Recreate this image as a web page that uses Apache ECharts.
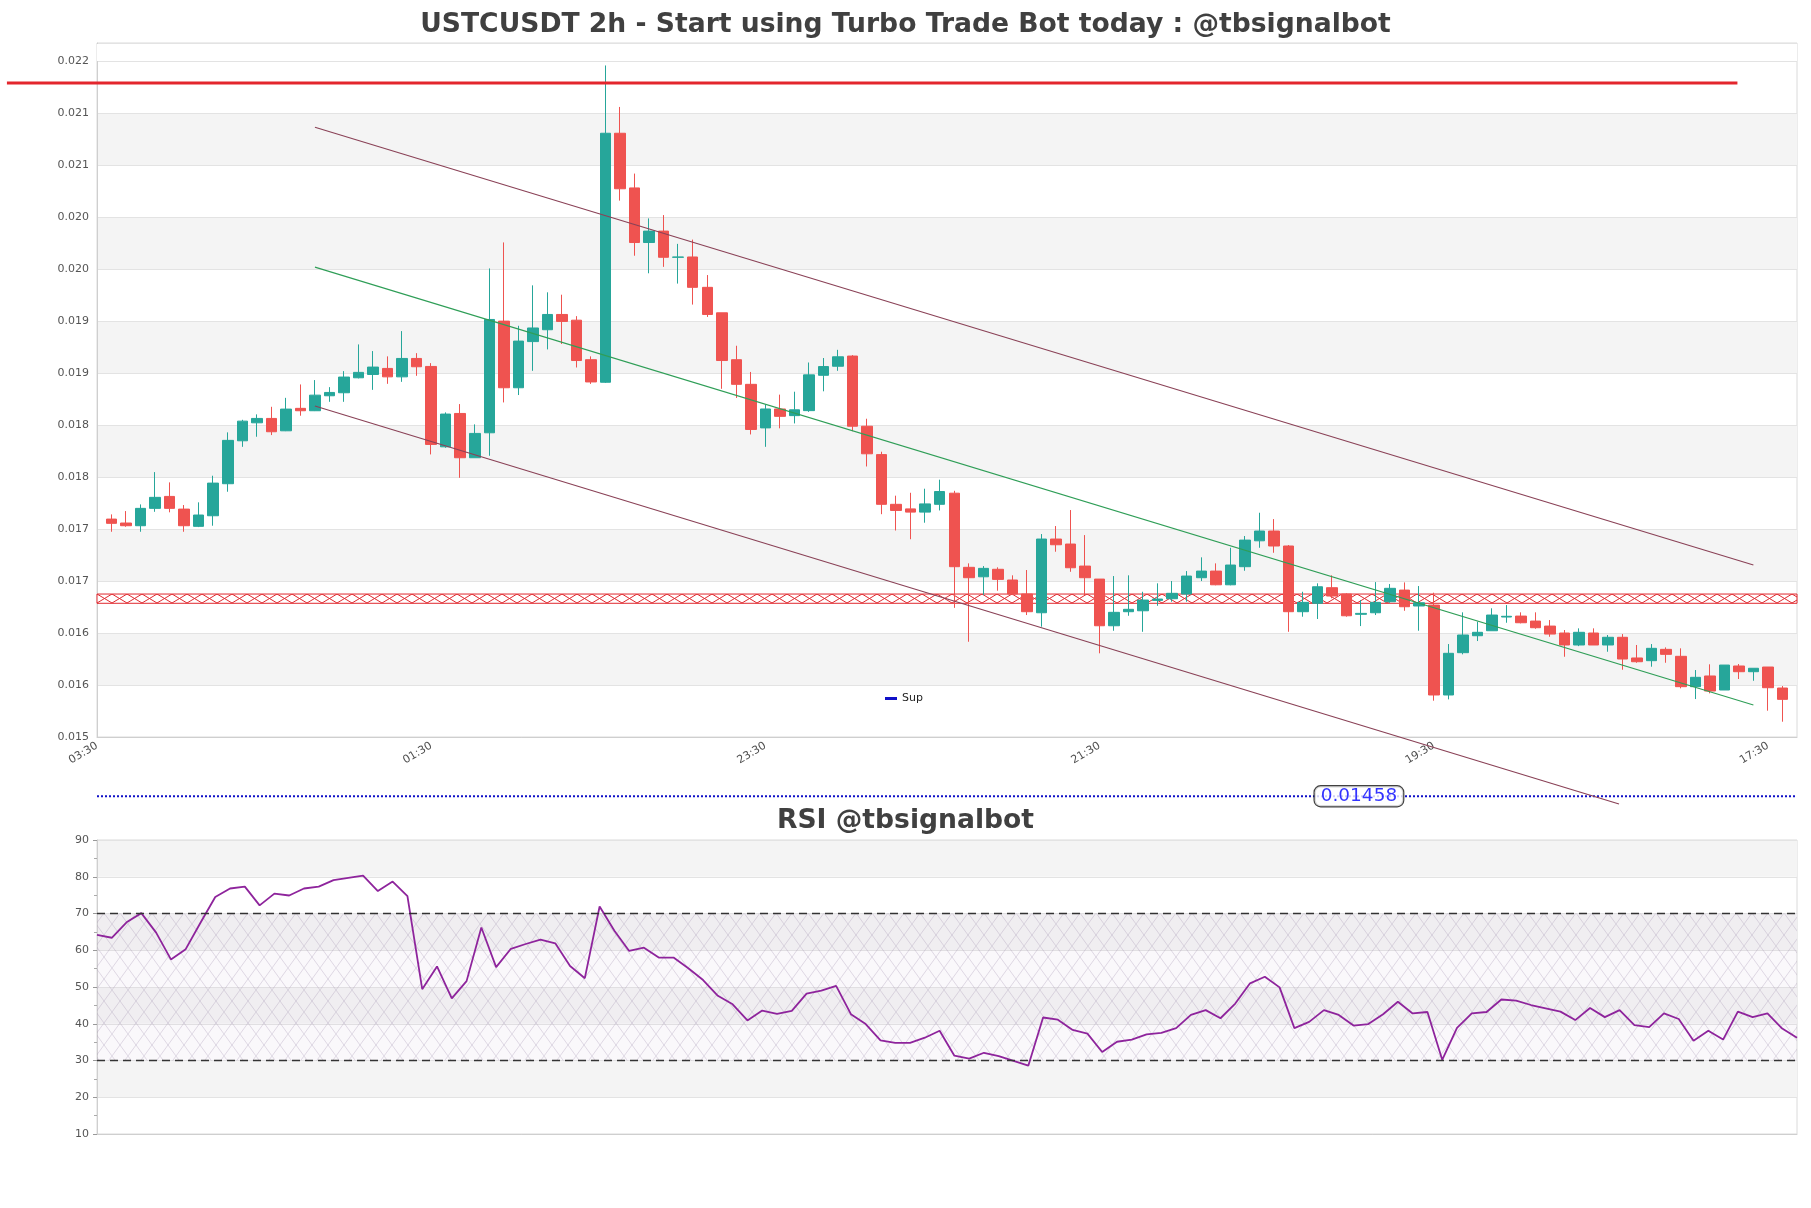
<!DOCTYPE html>
<html><head><meta charset="utf-8">
<script src="https://cdn.jsdelivr.net/npm/echarts@6/dist/echarts.min.js"></script>
<style>html,body{margin:0;padding:0;background:#fff}#c{width:1811px;height:1208px}</style>
</head><body><div id="c"></div>
<script>
// ---------- DATA ----------
const startLabel = '03:30';
const opens = [0.017246,0.017208,0.017182,0.017349,0.017464,0.017342,0.017176,0.017278,0.017586,0.017999,
0.018172,0.018214,0.018095,0.018311,0.018288,0.018432,0.018461,0.018605,0.018637,0.018695,
0.018614,0.018791,0.018714,0.017941,0.018262,0.017836,0.018076,0.019150,0.018509,0.018953,
0.019067,0.019214,0.019159,0.018779,0.018562,0.020957,0.020431,0.019906,0.020016,0.019764,
0.019767,0.019475,0.019230,0.018779,0.018542,0.018123,0.018305,0.018241,0.018289,0.018629,
0.018716,0.018814,0.018139,0.017866,0.017388,0.017344,0.017313,0.017388,0.017495,0.016782,
0.016691,0.016763,0.016660,0.016525,0.016345,0.017054,0.017006,0.016794,0.016669,0.016220,
0.016355,0.016364,0.016464,0.016480,0.016525,0.016682,0.016746,0.016614,0.016788,0.017037,
0.017131,0.016987,0.016355,0.016436,0.016586,0.016525,0.016330,0.016345,0.016451,0.016563,
0.016410,0.016419,0.015554,0.015961,0.016124,0.016172,0.016304,0.016313,0.016265,0.016217,
0.016150,0.016035,0.016150,0.016035,0.016109,0.015910,0.015884,0.015993,0.015926,0.015634,
0.015737,0.015602,0.015833,0.015778,0.015823,0.015621];
const closes = [0.017205,0.017182,0.017349,0.017455,0.017349,0.017182,0.017285,0.017592,0.018003,0.018188,
0.018214,0.018086,0.018304,0.018288,0.018438,0.018464,0.018612,0.018657,0.018708,0.018614,
0.018791,0.018711,0.017964,0.018256,0.017836,0.018070,0.019166,0.018509,0.018958,0.019084,
0.019214,0.019147,0.018771,0.018565,0.020957,0.020423,0.019906,0.020016,0.019764,0.019767,
0.019475,0.019214,0.018771,0.018542,0.018108,0.018305,0.018234,0.018297,0.018633,0.018713,
0.018807,0.018139,0.017874,0.017388,0.017329,0.017313,0.017392,0.017511,0.016788,0.016682,
0.016772,0.016666,0.016525,0.016355,0.017054,0.016999,0.016778,0.016682,0.016220,0.016349,
0.016378,0.016467,0.016477,0.016532,0.016698,0.016746,0.016614,0.016804,0.017044,0.017131,
0.016987,0.016355,0.016445,0.016595,0.016506,0.016316,0.016339,0.016445,0.016580,0.016403,
0.016441,0.015554,0.015955,0.016131,0.016157,0.016323,0.016311,0.016249,0.016201,0.016140,
0.016035,0.016157,0.016035,0.016109,0.015900,0.015874,0.016003,0.015945,0.015634,0.015724,
0.015592,0.015842,0.015778,0.015811,0.015624,0.015512];
const lows = [0.017124,0.017172,0.017124,0.017316,0.017311,0.017124,0.017169,0.017182,0.017509,0.017941,
0.018038,0.018054,0.018092,0.018240,0.018285,0.018374,0.018374,0.018599,0.018489,0.018547,
0.018566,0.018624,0.017868,0.017932,0.017643,0.017836,0.017855,0.018368,0.018439,0.018672,
0.018878,0.018930,0.018704,0.018546,0.018555,0.020309,0.019779,0.019610,0.019672,0.019511,
0.019309,0.019190,0.018499,0.018411,0.018060,0.017941,0.018119,0.018166,0.018277,0.018475,
0.018672,0.018091,0.017752,0.017293,0.017136,0.017052,0.017211,0.017329,0.016392,0.016066,
0.016515,0.016557,0.016515,0.016323,0.016211,0.016932,0.016739,0.016515,0.015955,0.016172,
0.016316,0.016162,0.016412,0.016451,0.016451,0.016650,0.016609,0.016609,0.016749,0.016970,
0.016922,0.016162,0.016307,0.016285,0.016484,0.016307,0.016217,0.016323,0.016441,0.016364,
0.016172,0.015499,0.015512,0.015945,0.016073,0.016172,0.016249,0.016243,0.016191,0.016114,
0.015922,0.016024,0.016035,0.015970,0.015797,0.015864,0.015826,0.015864,0.015618,0.015515,
0.015570,0.015602,0.015708,0.015691,0.015403,0.015297];
const highs = [0.017291,0.017323,0.017387,0.017698,0.017599,0.017381,0.017407,0.017663,0.018080,0.018201,
0.018253,0.018326,0.018412,0.018541,0.018583,0.018515,0.018669,0.018926,0.018862,0.018811,
0.019054,0.018842,0.018746,0.018272,0.018352,0.018157,0.019657,0.019907,0.019105,0.019494,
0.019427,0.019404,0.019198,0.018811,0.021609,0.021210,0.020569,0.020138,0.020170,0.019893,
0.019934,0.019593,0.019230,0.018913,0.018661,0.018348,0.018443,0.018471,0.018752,0.018795,
0.018874,0.018823,0.018211,0.017894,0.017471,0.017499,0.017538,0.017625,0.017518,0.016820,
0.016794,0.016782,0.016705,0.016756,0.017102,0.017179,0.017333,0.017092,0.016669,0.016698,
0.016705,0.016547,0.016628,0.016650,0.016746,0.016878,0.016820,0.016970,0.017083,0.017307,
0.017246,0.016996,0.016547,0.016628,0.016705,0.016532,0.016467,0.016640,0.016621,0.016637,
0.016602,0.016538,0.016044,0.016349,0.016259,0.016388,0.016419,0.016349,0.016349,0.016275,
0.016179,0.016195,0.016195,0.016131,0.016140,0.016035,0.016044,0.016012,0.016003,0.015794,
0.015849,0.015842,0.015852,0.015811,0.015820,0.015640];
const rsi = [64.2,63.4,67.6,70.1,64.8,57.5,60.3,67.5,74.5,76.8,
77.3,72.2,75.4,74.9,76.8,77.3,79.1,79.7,80.3,76.1,
78.7,74.7,49.4,55.6,46.9,51.6,66.2,55.4,60.4,61.7,
62.9,61.9,55.7,52.4,71.9,65.3,59.8,60.7,58.0,58.0,
55.1,51.9,47.6,45.3,40.9,43.6,42.7,43.5,48.2,49.0,
50.3,42.6,39.9,35.5,34.8,34.8,36.2,38.1,31.3,30.5,
32.1,31.2,29.9,28.6,41.7,41.1,38.3,37.3,32.3,35.1,
35.7,37.1,37.5,38.8,42.4,43.7,41.5,45.5,51.0,52.8,
49.9,38.8,40.5,43.7,42.4,39.5,39.9,42.6,46.0,42.8,
43.2,30.2,38.9,42.8,43.2,46.6,46.3,45.1,44.2,43.3,
41.0,44.3,41.8,43.7,39.6,39.1,42.8,41.3,35.4,38.1,
35.7,43.3,41.8,42.8,38.7,36.2];
// levels and trend lines: [bar index, value]
const resistance = 0.02144;
const supportValue = 0.01458;
const zoneLow = 0.016436, zoneHigh = 0.016525;
const upperChannel = [[15, 0.021015], [114, 0.016804]];
const midChannel   = [[15, 0.019669], [114, 0.015458]];
const lowerChannel = [[15, 0.018334], [104.75, 0.014506]];
const resistanceSpan = [-6.2, 112.9];
const supLabelAt = 86.85;
const yMin = 0.01515, yMax = 0.021825, yStep = 0.0005;
const lastTick = 0.021650;
const rsiTicks = {min: 10, max: 90, step: 10};
const rsiLevels = [70, 30];

// ---------- categories (2h bars) ----------
const nCat = opens.length + 2;
const categories = [];
{
  const h = parseInt(startLabel.slice(0, 2), 10);
  for (let i = 0; i < nCat; i++) categories.push(String((h + 2 * i) % 24).padStart(2, '0') + ':30');
}
const candleData = ['-'];
for (let i = 0; i < opens.length; i++) candleData.push([opens[i], closes[i], lows[i], highs[i]]);
candleData.push('-');
const rsiCats = categories.slice(1, 1 + rsi.length);

// ---------- layout ----------
const G = {left: 97, top: 43, width: 1700, height: 694};
const step = G.width / (nCat - 1);
const extLeft = -resistanceSpan[0] * step; // overlay grid extends left so the level line can start outside

// ---------- patterns ----------
function redHatch() {
  const c = document.createElement('canvas');
  c.width = 15; c.height = 9;
  const g = c.getContext('2d');
  g.fillStyle = '#ffffff'; g.fillRect(0, 0, 15, 9);
  g.strokeStyle = '#e0282e'; g.lineWidth = 1;
  g.beginPath();
  g.moveTo(0, 0); g.lineTo(15, 9);
  g.moveTo(15, 0); g.lineTo(0, 9);
  g.stroke();
  return c;
}
function purpleHatch() {
  const c = document.createElement('canvas');
  c.width = 16; c.height = 22;
  const g = c.getContext('2d');
  g.fillStyle = 'rgba(215,200,225,0.12)'; g.fillRect(0, 0, 16, 22);
  g.strokeStyle = 'rgba(150,130,165,0.35)'; g.lineWidth = 0.8;
  g.beginPath();
  g.moveTo(0, 0); g.lineTo(16, 22);
  g.moveTo(16, 0); g.lineTo(0, 22);
  g.stroke();
  return c;
}

const chart = echarts.init(document.getElementById('c'), null, {renderer: 'canvas'});
const axisLabelColor = '#555';
const gridLine = '#e3e3e3';
const titleStyle = {fontFamily: 'DejaVu Sans', fontSize: 26.6, fontWeight: 'bold', color: '#404040'};
const option = {
  animation: false,
  backgroundColor: '#ffffff',
  title: [
    {text: 'USTCUSDT 2h - Start using Turbo Trade Bot today : @tbsignalbot', left: 'center', top: 7, textStyle: titleStyle},
    {text: 'RSI @tbsignalbot', left: 'center', top: 803, textStyle: titleStyle}
  ],
  legend: {
    data: ['Sup'], left: 880, top: 688, icon: 'rect', itemWidth: 12, itemHeight: 3,
    textStyle: {fontSize: 11, color: '#222', fontFamily: 'DejaVu Sans'},
    itemStyle: {color: '#1010c8'}
  },
  grid: [
    {left: G.left, top: G.top, width: G.width, height: G.height, show: true, borderColor: '#dadada', borderWidth: 1},
    {left: G.left, top: 840, width: G.width, height: 294, show: true, borderColor: '#dadada', borderWidth: 1},
    {left: G.left - extLeft, top: G.top, width: G.width + extLeft, height: G.height, show: false}
  ],
  xAxis: [
    {type: 'category', gridIndex: 0, data: categories, boundaryGap: false,
     axisLine: {lineStyle: {color: '#cfcfcf'}}, axisTick: {show: false},
     axisLabel: {interval: 22, rotate: 31, fontSize: 11, color: '#505050', fontFamily: 'DejaVu Sans'},
     splitLine: {show: false}},
    {type: 'category', gridIndex: 1, data: rsiCats, boundaryGap: false,
     axisLine: {lineStyle: {color: '#cfcfcf'}}, axisTick: {show: false}, axisLabel: {show: false},
     splitLine: {show: false}},
    {type: 'value', gridIndex: 2, min: resistanceSpan[0], max: nCat - 1, show: false}
  ],
  yAxis: [
    {type: 'value', gridIndex: 0, min: yMin, max: yMax, interval: yStep,
     axisLine: {show: true, lineStyle: {color: '#cfcfcf'}},
     axisTick: {show: false},
     axisLabel: {fontSize: 11, color: axisLabelColor, fontFamily: 'DejaVu Sans', showMaxLabel: false,
       formatter: v => v.toFixed(3)},
     splitLine: {show: true, lineStyle: {color: gridLine, width: 1}},
     splitArea: {show: true, areaStyle: {color: ['rgba(255,255,255,0)', '#f4f4f4']}}},
    {type: 'value', gridIndex: 1, min: rsiTicks.min, max: rsiTicks.max, interval: rsiTicks.step,
     axisLine: {show: true, lineStyle: {color: '#cfcfcf'}},
     axisTick: {show: true, length: 4, lineStyle: {color: '#999'}},
     minorTick: {show: true, splitNumber: 2, length: 3, lineStyle: {color: '#aaa'}},
     axisLabel: {fontSize: 11, color: axisLabelColor, fontFamily: 'DejaVu Sans'},
     splitLine: {show: true, lineStyle: {color: gridLine, width: 1}},
     splitArea: {show: true, areaStyle: {color: ['rgba(255,255,255,0)', '#f4f4f4']}}},
    {type: 'value', gridIndex: 2, min: yMin, max: yMax, show: false}
  ],
  series: [
    {name: 'Sup', type: 'line', xAxisIndex: 2, yAxisIndex: 2, z: 1, clip: false,
     symbol: 'none', silent: true,
     data: [[0, supportValue], [nCat - 1, supportValue]],
     lineStyle: {color: '#1010c8', width: 2, type: 'dotted'},
     itemStyle: {color: '#1010c8'}},
    {name: 'supLabel', type: 'scatter', xAxisIndex: 2, yAxisIndex: 2, z: 6, clip: false, silent: true,
     symbolSize: 1, itemStyle: {color: 'rgba(0,0,0,0)'},
     data: [[supLabelAt, supportValue]],
     label: {show: true, position: 'inside', formatter: String(supportValue),
       color: '#0000ff', fontSize: 18.5, fontFamily: 'DejaVu Sans',
       backgroundColor: '#ffffff', borderColor: '#111', borderWidth: 1.2, borderRadius: 6, padding: [1, 6, 0, 6]}},
    {name: 'candles', type: 'candlestick', xAxisIndex: 0, yAxisIndex: 0, z: 3,
     barWidth: 11, data: candleData,
     itemStyle: {color: '#26a69a', color0: '#ef5350', borderColor: '#26a69a', borderColor0: '#ef5350', borderWidth: 1},
     markArea: {silent: true, data: [
       [{yAxis: zoneLow, itemStyle: {color: {image: redHatch(), repeat: 'repeat', x: G.left, y: 594}, borderColor: '#e0282e', borderWidth: 1}},
        {yAxis: zoneHigh}],
       [{yAxis: lastTick + 0.000003, itemStyle: {color: '#ffffff', borderWidth: 0}},
        {yAxis: yMax - 0.00001}]
     ]}},
    {name: 'res', type: 'line', xAxisIndex: 2, yAxisIndex: 2, z: 5, clip: false, symbol: 'none', silent: true,
     data: [[resistanceSpan[0], resistance], [resistanceSpan[1], resistance]],
     lineStyle: {color: '#e3262d', width: 3}},
    {name: 'upper', type: 'line', xAxisIndex: 2, yAxisIndex: 2, z: 4, clip: false, symbol: 'none', silent: true,
     data: upperChannel, lineStyle: {color: '#8a4257', width: 1.2}},
    {name: 'mid', type: 'line', xAxisIndex: 2, yAxisIndex: 2, z: 4, clip: false, symbol: 'none', silent: true,
     data: midChannel, lineStyle: {color: '#2f9e57', width: 1.2}},
    {name: 'lower', type: 'line', xAxisIndex: 2, yAxisIndex: 2, z: 4, clip: false, symbol: 'none', silent: true,
     data: lowerChannel, lineStyle: {color: '#8a4257', width: 1.2}},
    {name: 'rsiZone', type: 'line', xAxisIndex: 1, yAxisIndex: 1, z: 1, data: [], silent: true,
     markArea: {silent: true, itemStyle: {color: {image: purpleHatch(), repeat: 'repeat'}},
       data: [[{yAxis: rsiLevels[1]}, {yAxis: rsiLevels[0]}]]}},
    {name: 'RSI', type: 'line', xAxisIndex: 1, yAxisIndex: 1, z: 3, data: rsi, symbol: 'none', silent: true,
     lineStyle: {color: '#8e249c', width: 1.8},
     markLine: {silent: true, symbol: 'none', label: {show: false},
       lineStyle: {color: '#333', type: [8, 5], width: 1.3},
       data: rsiLevels.map(v => ({yAxis: v}))}}
  ]
};
chart.setOption(option);
</script>
</body></html>
